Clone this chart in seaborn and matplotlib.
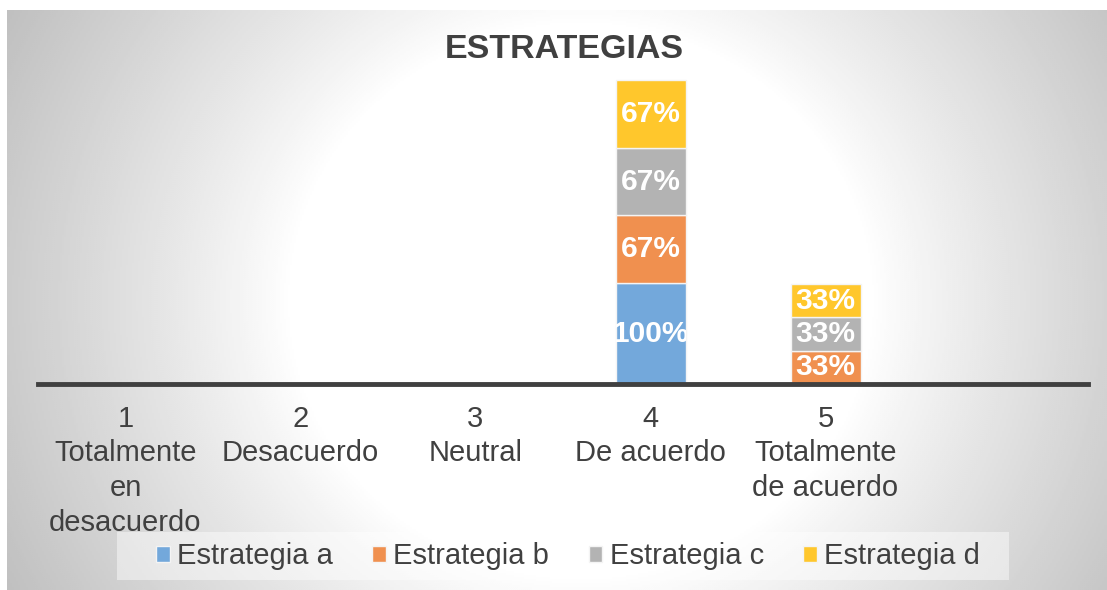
import numpy as np
import pandas as pd
import seaborn as sns
import matplotlib.pyplot as plt
from matplotlib.patches import Rectangle

# Chart data (percent of respondents per answer)
categorias = ["1\nTotalmente\nen\ndesacuerdo", "2\nDesacuerdo", "3\nNeutral",
              "4\nDe acuerdo", "5\nTotalmente\nde acuerdo", ""]
series = ["Estrategia a", "Estrategia b", "Estrategia c", "Estrategia d"]
estrategia_a = [0, 0, 0, 100, 0, 0]
estrategia_b = [0, 0, 0, 67, 33, 0]
estrategia_c = [0, 0, 0, 67, 33, 0]
estrategia_d = [0, 0, 0, 67, 33, 0]
colores = ["#73a8db", "#f0904f", "#b3b3b3", "#ffc72c"]

valores = [estrategia_a, estrategia_b, estrategia_c, estrategia_d]

sns.set_theme(style="white")
plt.rcParams["font.family"] = ["Liberation Sans", "DejaVu Sans"]
texto = "#404040"

W, H = 1107, 590
fig = plt.figure(figsize=(W / 100, H / 100), dpi=100)

# radial gradient background (white centre, grey edges), in pixel units
bg = fig.add_axes([7 / W, 0, (W - 7) / W, (H - 10) / H])
yy, xx = np.mgrid[10:590:2, 7:1107:2]
d = np.sqrt((xx - 580.0) ** 2 + ((yy - 300.0) * 1.05) ** 2)
grad = 1 - 0.25 * np.clip((d - 290) / 360, 0, 1) ** 0.9
bg.imshow(grad, cmap="gray", vmin=0, vmax=1, aspect="auto", interpolation="bilinear")
bg.axis("off")
# legend box
bg.add_patch(Rectangle((117 / W, (H - 580) / H), 892 / W, 48 / H,
                       transform=fig.transFigure, facecolor="white",
                       alpha=0.45, edgecolor="none", clip_on=False))

ax = fig.add_axes([38 / W, (H - 384) / H, 1050 / W, 320 / H])
ax.patch.set_alpha(0)

base = np.zeros(len(categorias))
for nombre, vals, col in zip(series, valores, colores):
    df = pd.DataFrame({"cat": categorias, "val": vals})
    sns.barplot(data=df, x="cat", y="val", order=categorias, color=col, width=0.4,
                bottom=base, edgecolor="#f4f4f4", linewidth=1, label=nombre,
                saturation=1, ax=ax)
    cont = ax.containers[-1]
    etiquetas = [f"{v}%" if v > 0 else "" for v in vals]
    txts = ax.bar_label(cont, labels=etiquetas, label_type="center", color="white",
                        fontsize=21.5, fontweight="bold")
    for t, rect in zip(txts, cont):
        t.set_clip_path(rect)
    base = base + np.array(vals)

ax.set_xlim(-0.5, 5.5)
ax.set_ylim(0, 317)
ax.set_xlabel("")
ax.set_ylabel("")
ax.set_yticks([])
for s in ["top", "left", "right"]:
    ax.spines[s].set_visible(False)
ax.spines["bottom"].set_color(texto)
ax.spines["bottom"].set_linewidth(3.5)
ax.tick_params(axis="x", length=0, pad=15, labelsize=21, labelcolor=texto)
for lab in ax.get_xticklabels():
    lab.set_linespacing(1.3)

fig.text(564 / W, (H - 50) / H, "ESTRATEGIAS", ha="center", va="center",
         fontsize=24.5, fontweight="bold", color=texto)

leg = ax.legend(loc="center", bbox_to_anchor=(568 / W, (H - 556) / H),
                bbox_transform=fig.transFigure, ncol=4, frameon=False,
                fontsize=21, handlelength=0.47, handleheight=0.47,
                handletextpad=0.25, columnspacing=1.35, labelcolor=texto)

fig.savefig("out.png", dpi=100)
